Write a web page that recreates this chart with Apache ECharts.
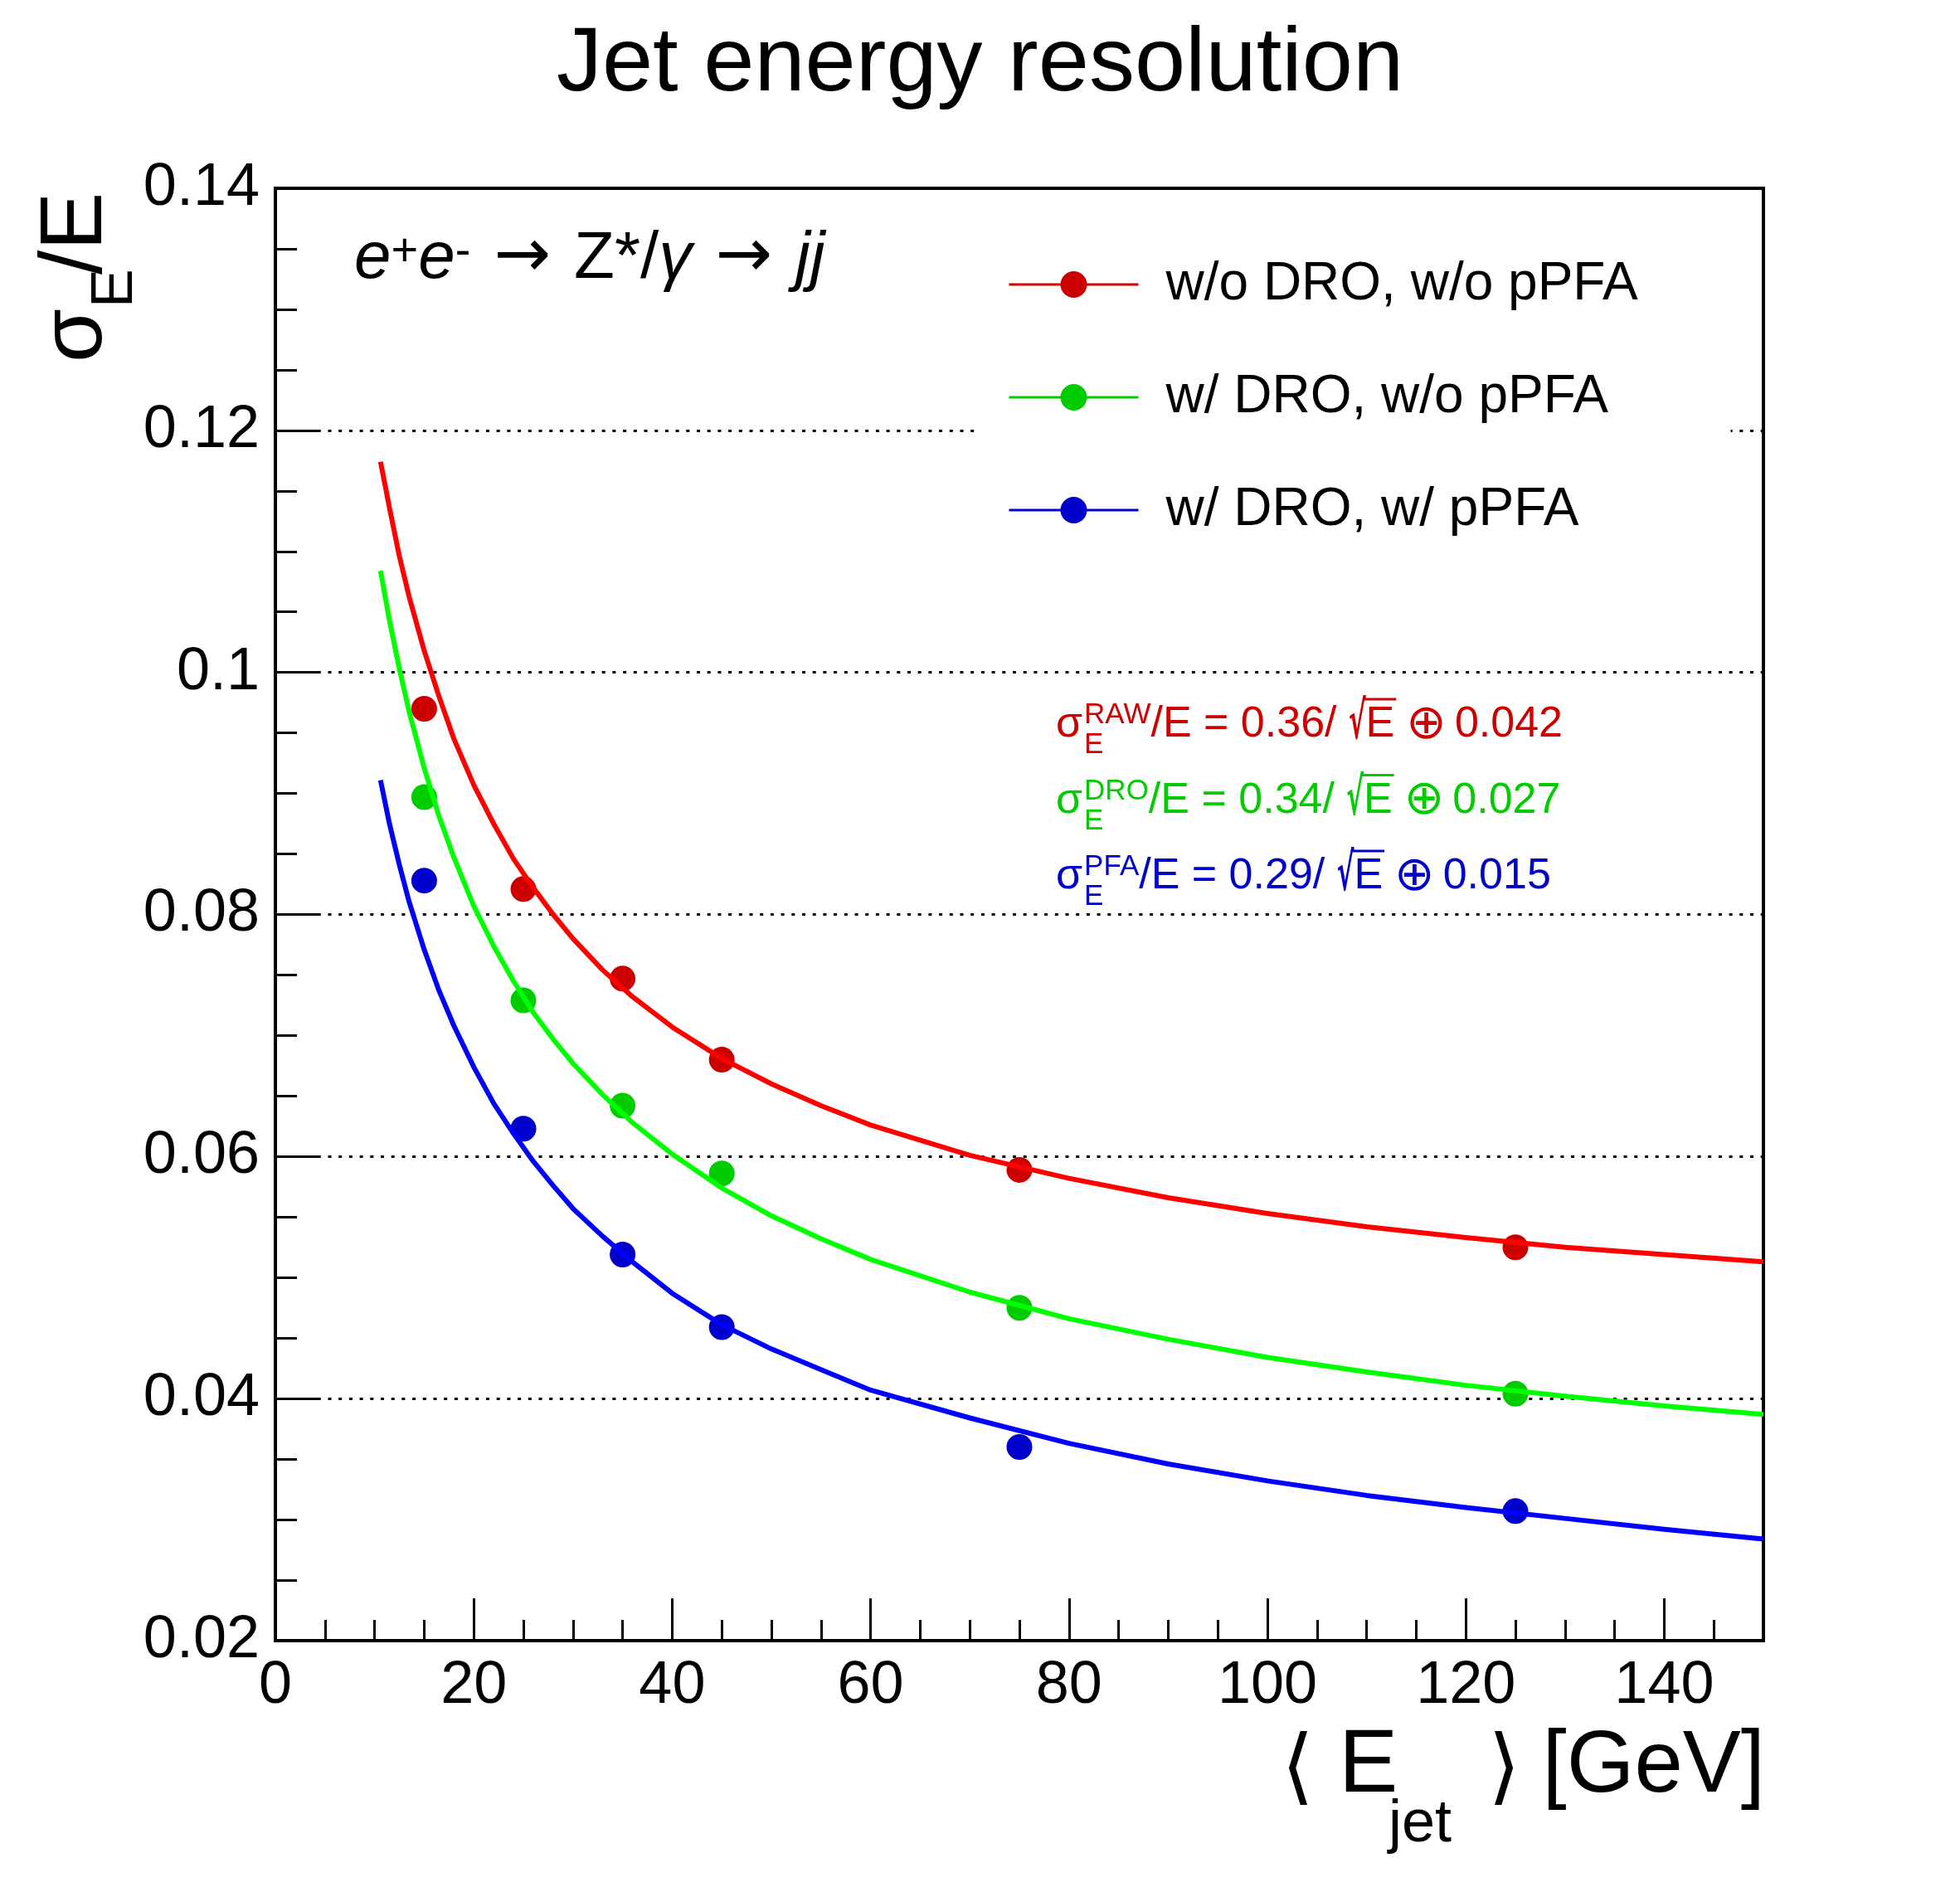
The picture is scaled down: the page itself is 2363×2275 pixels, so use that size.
<!DOCTYPE html>
<html><head><meta charset="utf-8">
<script src="https://cdn.jsdelivr.net/npm/echarts@6/dist/echarts.min.js"></script>
<style>html,body{margin:0;padding:0;background:#fff}#c{width:2363px;height:2275px}</style>
</head><body><div id="c"></div>
<script>
// ---- data ----
const energies = [15, 25, 35, 45, 75, 125];
const noDroNoPfa = [0.0970, 0.0821, 0.0747, 0.0680, 0.0589, 0.0525];
const droNoPfa   = [0.0897, 0.0729, 0.0642, 0.0586, 0.0475, 0.0404];
const droPfa     = [0.0828, 0.0623, 0.0519, 0.0459, 0.0360, 0.0307];
// fitted curves
const fitX   = [10.6, 11.5, 12.5, 13.5, 15, 16.5, 18, 20, 22, 24, 26, 28, 30, 33, 36, 40, 45, 50, 55, 60, 70, 80, 90, 100, 110, 120, 130, 140, 150];
const fitRaw = [0.1174, 0.1136, 0.1096, 0.1062, 0.1018, 0.0980, 0.0945, 0.0907, 0.0875, 0.0846, 0.0822, 0.0800, 0.0780, 0.0754, 0.0732, 0.0707, 0.0681, 0.0660, 0.0642, 0.0626, 0.0601, 0.0582, 0.0566, 0.0553, 0.0542, 0.0533, 0.0525, 0.0519, 0.0513];
const fitDro = [0.1084, 0.1043, 0.1003, 0.0967, 0.0921, 0.0881, 0.0847, 0.0807, 0.0774, 0.0745, 0.0719, 0.0697, 0.0677, 0.0651, 0.0628, 0.0602, 0.0574, 0.0551, 0.0532, 0.0515, 0.0488, 0.0466, 0.0449, 0.0434, 0.0422, 0.0411, 0.0402, 0.0394, 0.0387];
const fitPfa = [0.0911, 0.0875, 0.0841, 0.0810, 0.0771, 0.0737, 0.0708, 0.0674, 0.0644, 0.0619, 0.0596, 0.0576, 0.0557, 0.0534, 0.0513, 0.0487, 0.0461, 0.0441, 0.0424, 0.0407, 0.0384, 0.0363, 0.0346, 0.0332, 0.0320, 0.0310, 0.0301, 0.0292, 0.0284];
const seriesNames = ['w/o DRO, w/o pPFA', 'w/ DRO, w/o pPFA', 'w/ DRO, w/ pPFA'];
const xTickLabels = ['0', '20', '40', '60', '80', '100', '120', '140'];
const yTickLabels = ['0.02', '0.04', '0.06', '0.08', '0.1', '0.12', '0.14'];
const fitTexts = [
  {sup: 'RAW', a: '0.36', b: '0.042'},
  {sup: 'DRO', a: '0.34', b: '0.027'},
  {sup: 'PFA', a: '0.29', b: '0.015'}
];

const FONT = "'Liberation Sans', Arial, Helvetica, sans-serif";
const SYM = "'DejaVu Sans', 'Liberation Sans', sans-serif";
const markColors = ['#cc0000', '#00cc00', '#0000cc'];
const lineColors = ['#ff0000', '#00ff00', '#0000ff'];

const pair = (xs, ys) => xs.map((x, i) => [x, ys[i]]);
const pointSets = [noDroNoPfa, droNoPfa, droPfa];
const fitSets = [fitRaw, fitDro, fitPfa];

const series = [];
pointSets.forEach((ys, i) => {
  series.push({
    name: seriesNames[i], type: 'line', xAxisIndex: 0, yAxisIndex: 0,
    data: pair(energies, ys), symbol: 'circle', symbolSize: 31, showSymbol: true,
    itemStyle: {color: markColors[i]},
    lineStyle: {color: markColors[i], width: 3, opacity: 0},
    z: 2, silent: true
  });
});
fitSets.forEach((ys, i) => {
  series.push({
    name: 'fit' + i, type: 'line', xAxisIndex: 0, yAxisIndex: 0,
    data: pair(fitX, ys), showSymbol: false, symbol: 'none', smooth: false,
    lineStyle: {color: lineColors[i], width: 6, join: 'round'},
    z: 3, silent: true
  });
});

// text measuring for the annotation layout
const mctx = document.createElement('canvas').getContext('2d');
function tw(text, fs, fam, weight) {
  mctx.font = (weight || 'normal') + ' ' + fs + 'px ' + (fam || FONT);
  return mctx.measureText(text).width;
}

function t(x, y, text, fs, color, extra) {
  return {
    type: 'text', x: x, y: y - 0.35 * fs, z: 100, silent: true,
    style: Object.assign({text: text, fontSize: fs, fontFamily: FONT, fill: color, align: 'left', verticalAlign: 'middle'}, extra || {})
  };
}

const graphics = [];
// fit formula annotations
fitTexts.forEach((f, i) => {
  const B = 892 + i * 91.5;
  const c = markColors[i];
  let x = 1273;
  graphics.push(t(x, B, 'σ', 52, c));
  x += tw('σ', 52) + 2;
  graphics.push(t(x, B - 17, f.sup, 35, c));
  graphics.push(t(x, B + 19, 'E', 35, c));
  x += Math.max(tw(f.sup, 35), tw('E', 35));
  const main = '/E = ' + f.a + '/ ';
  graphics.push(t(x, B, main, 52, c));
  x += tw(main, 52);
  const sq = {type: 'text', x: x, y: B + 4 - 0.35 * 62, scaleX: 0.5, z: 100, silent: true,
    style: {text: '√', fontSize: 62, fontFamily: SYM, fontWeight: 'bold', fill: c, align: 'left', verticalAlign: 'middle'}};
  graphics.push(sq);
  const sqW = tw('√', 62, SYM, 'bold') * 0.5;
  x += sqW - 2;
  graphics.push({type: 'line', z: 100, silent: true, shape: {x1: x, y1: B - 49, x2: x + tw('E', 52) + 4, y2: B - 49}, style: {stroke: c, lineWidth: 3}});
  x += 2;
  graphics.push(t(x, B, 'E', 52, c));
  x += tw('E', 52) + 14;
  graphics.push(t(x, B + 3, '⊕', 58, c, {fontFamily: SYM}));
  x += tw('⊕', 58, SYM) + 10;
  graphics.push(t(x, B, f.b, 52, c));
});
// process label
graphics.push({
  type: 'text', x: 427, y: 277, z: 100, silent: true,
  style: {
    text: '{mi|e}{s|+}{mi|e}{s|-}{g|}{a|→}{g|}{m|Z*/}{mi|γ}{g|}{a|→}{g|}{mi|jj}',
    fontFamily: FONT, fill: '#000', align: 'left', verticalAlign: 'top',
    rich: {
      m: {fontSize: 80, lineHeight: 76, padding: [27, 0, 0, 0], verticalAlign: 'bottom', fontFamily: FONT, fill: '#000'},
      g: {fontSize: 80, lineHeight: 76, padding: [27, 28, 0, 0], verticalAlign: 'bottom', fontFamily: FONT, fill: '#000'},
      a: {fontSize: 82, lineHeight: 76, padding: [27, 0, 0, 0], verticalAlign: 'bottom', fontFamily: SYM, fill: '#000'},
      mi: {fontSize: 80, lineHeight: 76, padding: [27, 0, 0, 0], verticalAlign: 'bottom', fontFamily: FONT, fontStyle: 'italic', fill: '#000'},
      s: {fontSize: 56, lineHeight: 52, verticalAlign: 'top', fontFamily: FONT, fill: '#000'}
    }
  }
});
// x axis title
graphics.push(t(1545, 2172, '⟨', 100, '#000', {fontFamily: SYM}));
graphics.push(t(1614, 2168, 'E', 107, '#000'));
graphics.push(t(1674, 2225, 'jet', 72, '#000'));
graphics.push(t(1794, 2172, '⟩', 100, '#000', {fontFamily: SYM}));
graphics.push(t(2128, 2168, '[GeV]', 105, '#000', {align: 'right'}));
// y axis title (rotated)
graphics.push({
  type: 'group', x: 130, y: 437, rotation: Math.PI / 2, silent: true, z: 100,
  children: [
    {type: 'text', x: 0, y: -37, z: 100, style: {text: 'σ', fontSize: 105, fontFamily: FONT, fill: '#000', align: 'left', verticalAlign: 'middle'}},
    {type: 'text', x: 66, y: 10, z: 100, style: {text: 'E', fontSize: 70, fontFamily: FONT, fill: '#000', align: 'left', verticalAlign: 'middle'}},
    {type: 'text', x: 106, y: -37, z: 100, style: {text: '/E', fontSize: 105, fontFamily: FONT, fill: '#000', align: 'left', verticalAlign: 'middle'}}
  ]
});

const axisBase = {
  axisLine: {show: true, onZero: false, lineStyle: {color: '#000', width: 4}},
};

const option = {
  animation: false,
  backgroundColor: '#fff',
  title: {
    text: 'Jet energy resolution', left: 'center', top: 24, padding: 0,
    textStyle: {fontSize: 110, lineHeight: 110, fontWeight: 'normal', fontFamily: FONT, color: '#000'}
  },
  grid: {left: 332, right: 237, top: 227, bottom: 297, show: true, borderColor: '#000', borderWidth: 4, backgroundColor: 'transparent'},
  legend: {
    orient: 'vertical', left: 1175, top: 291, padding: [20, 112, 20, 40],
    backgroundColor: '#fff', itemWidth: 156, itemHeight: 40, itemGap: 72,
    data: seriesNames,
    lineStyle: {width: 3, opacity: 1},
    textStyle: {fontSize: 64, fontFamily: FONT, color: '#000', lineHeight: 40, padding: [0, 0, 0, 28]},
    selectedMode: false
  },
  xAxis: [
    Object.assign({}, axisBase, {
      type: 'value', min: 0, max: 150, interval: 20, position: 'bottom',
      axisTick: {show: true, inside: true, length: 51, lineStyle: {color: '#000', width: 3}},
      axisLabel: {show: true, margin: 19, fontSize: 72, lineHeight: 72, fontFamily: FONT, color: '#000', showMaxLabel: false,
        formatter: v => { const k = Math.round(v / 20); return (v % 20 === 0 && xTickLabels[k] !== undefined) ? xTickLabels[k] : ''; }},
      splitLine: {show: false}
    }),
    {
      type: 'value', min: 0, max: 150, interval: 5, position: 'bottom', gridIndex: 0,
      axisLine: {show: false}, axisLabel: {show: false}, splitLine: {show: false},
      axisTick: {show: true, inside: true, length: 25, lineStyle: {color: '#000', width: 3}}
    }
  ],
  yAxis: [
    Object.assign({}, axisBase, {
      type: 'value', min: 0.02, max: 0.14, interval: 0.02, position: 'left',
      axisTick: {show: true, inside: true, length: 52, lineStyle: {color: '#000', width: 3}},
      axisLabel: {show: true, margin: 19, fontSize: 72, fontFamily: FONT, color: '#000',
        formatter: v => { const k = Math.round((v - 0.02) / 0.02); return yTickLabels[k] !== undefined ? yTickLabels[k] : ''; }},
      splitLine: {show: true, lineStyle: {color: '#000', width: 3, type: [4, 8.7]}}
    }),
    {
      type: 'value', min: 0.02, max: 0.14, interval: 0.005, position: 'left', gridIndex: 0,
      axisLine: {show: false}, axisLabel: {show: false}, splitLine: {show: false},
      axisTick: {show: true, inside: true, length: 26, lineStyle: {color: '#000', width: 3}}
    }
  ],
  series: series,
  graphic: graphics
};
const chart = echarts.init(document.getElementById('c'), null, {renderer: 'canvas'});
chart.setOption(option);
</script>
</body></html>
